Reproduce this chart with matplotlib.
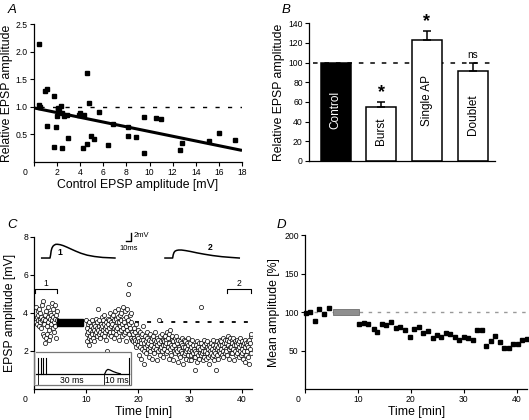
import numpy as np
import matplotlib
matplotlib.use('Agg')
import matplotlib.pyplot as plt
from matplotlib.patches import Rectangle
from matplotlib.transforms import ScaledTranslation

plt.rcParams['font.family'] = ['Liberation Sans', 'DejaVu Sans']
plt.rcParams['font.size'] = 6

# ---------------- Panel A data ----------------
a_x = [0.43, 0.40, 0.55, 0.92, 1.09, 1.73, 1.12, 1.73, 1.93, 1.96, 2.10, 2.16, 2.40, 2.60,
       2.40, 2.94, 2.85, 3.90, 3.95, 4.30, 4.20, 4.60, 4.60, 4.75, 4.95, 5.16, 5.65, 6.37,
       6.85, 8.15, 8.15, 8.84, 9.48, 9.53, 10.57, 10.97, 12.64, 12.85, 15.18, 15.98, 17.37,
       2.05, 2.30]
a_y = [2.14, 1.04, 1.00, 1.28, 1.33, 1.19, 0.66, 0.28, 0.64, 0.84, 0.98, 0.92, 0.89, 0.83,
       0.26, 0.44, 0.85, 0.86, 0.88, 0.86, 0.25, 0.33, 1.61, 1.06, 0.48, 0.42, 0.90, 0.30,
       0.69, 0.63, 0.47, 0.45, 0.81, 0.17, 0.80, 0.77, 0.22, 0.34, 0.38, 0.52, 0.40,
       0.96, 1.01]
a_fit_x = [0.0, 18.0]
a_fit_y = [0.98, 0.21]
a_xticks = [0, 2, 4, 6, 8, 10, 12, 14, 16, 18]
a_yticks = [0.5, 1.0, 1.5, 2.0, 2.5]

# ---------------- Panel B data ----------------
b_labels = ['Control', 'Burst', 'Single AP', 'Doublet']
b_vals = [100, 55, 123, 91]
b_err = [0, 5, 9, 9]
b_sig = ['', '*', '*', 'ns']
b_yticks = [0, 20, 40, 60, 80, 100, 120, 140]

# ---------------- Panel C data ----------------
c_seg1 = [3.5, 4.3, 3.8, 3.4, 4.1, 3.6, 3.9, 3.3, 4.2, 3.7, 3.5, 4.0, 3.2, 3.8, 3.6, 4.4,
          2.9, 3.7, 4.6, 3.4, 2.8, 2.4, 3.9, 3.6, 2.7, 4.1, 3.3, 2.9, 3.8, 3.5, 4.3, 2.6,
          3.1, 3.7, 4.0, 2.8, 3.4, 3.9, 3.6, 4.5, 3.2, 3.8, 4.2, 3.5, 3.0, 4.4, 3.7, 3.3,
          3.9, 2.7, 4.1, 3.6]
c_seg2 = [3.6, 2.9, 3.2, 2.5, 3.4, 3.0, 2.7, 3.5, 2.3, 3.1, 2.8, 3.3, 2.6,
          3.0, 3.6, 2.9, 3.2, 2.7, 3.4, 3.1, 2.5, 3.3, 2.9, 3.7, 3.0,
          3.2, 2.8, 3.5, 3.1, 4.2, 2.9, 3.3, 3.6, 3.0, 2.7, 3.4, 3.2, 3.8,
          2.9, 3.3, 3.1, 3.6, 2.8, 3.4, 3.9, 3.0, 3.2, 2.6, 3.5, 3.3,
          3.1, 2.0, 3.7, 3.4, 2.9, 3.6, 3.2, 4.0, 3.0, 3.5, 2.8, 3.3, 3.8,
          3.4, 3.0, 3.9, 3.2, 2.7, 3.6, 4.1, 3.3, 3.1, 3.7, 2.9, 3.5,
          3.2, 3.8, 4.2, 3.0, 3.5, 2.6, 3.9, 3.3, 4.0, 3.1, 3.6, 2.8, 3.4,
          4.3, 3.2, 3.7, 2.9, 3.5, 4.1, 3.0, 2.5, 3.8, 3.3, 4.2, 3.1,
          3.6, 5.0, 3.4, 5.5, 2.9, 3.9, 3.2, 4.0, 2.7, 3.5, 3.0, 2.6]
c_seg3 = [2.9, 2.5, 3.2, 2.7, 2.4, 3.0, 2.6, 3.4, 2.2, 2.8, 2.5, 3.1,
          2.3, 2.7, 1.8, 2.5, 3.0, 2.2, 2.6, 1.6, 2.4, 2.9, 2.1, 3.3,
          2.6, 2.0, 2.4, 1.3, 2.8, 2.2, 2.5, 1.9, 3.0, 2.3, 2.7, 2.1,
          2.4, 1.7, 2.6, 2.2, 2.9, 2.0, 2.5, 2.3, 1.6, 2.7, 2.1, 2.8,
          2.2, 2.6, 1.9, 2.4, 3.0, 2.1, 2.5, 1.5, 2.7, 2.3, 2.0, 2.6,
          3.6, 2.4, 2.1, 2.8, 1.8, 2.5, 2.2, 2.9, 2.0, 2.6, 2.3, 1.7,
          2.5, 2.1, 2.8, 2.3, 1.9, 2.6, 2.4, 3.0, 2.0, 2.7, 2.2, 1.6,
          2.4, 2.9, 2.1, 3.1, 2.3, 1.8, 2.6, 2.2, 2.8, 1.5, 2.5, 2.0,
          2.3, 2.7, 1.9, 2.5, 2.1, 2.8, 2.0, 2.4, 1.4, 2.6, 2.2, 1.8,
          2.1, 2.5, 1.7, 2.4, 2.0, 2.7, 1.9, 2.3, 1.3, 2.2, 2.6, 1.8,
          2.2, 1.9, 2.5, 2.0, 1.6, 2.4, 2.1, 2.7, 1.8, 2.3, 2.0, 1.5,
          2.1, 2.4, 1.8, 2.2, 1.5, 2.0, 2.6, 1.9, 2.3, 1.7, 2.1, 1.0,
          2.0, 1.7, 2.3, 1.9, 2.5, 1.4, 2.1, 1.8, 2.2, 1.6, 2.4, 1.9,
          2.1, 1.8, 2.4, 4.3, 1.9, 2.2, 1.5, 2.0, 2.6, 1.7, 2.3, 1.9,
          2.0, 2.4, 1.6, 2.2, 1.9, 2.5, 1.7, 2.1, 1.3, 2.3, 1.8, 2.0,
          2.2, 1.9, 2.4, 1.7, 2.1, 2.6, 1.8, 2.3, 2.0, 1.5, 2.2, 1.9,
          2.3, 1.0, 2.1, 2.5, 1.8, 2.2, 1.6, 2.4, 2.0, 2.6, 1.9, 2.3,
          2.1, 2.5, 1.8, 2.3, 2.0, 2.7, 1.7, 2.2, 2.4, 1.9, 2.6, 2.1,
          2.4, 2.0, 2.6, 1.8, 2.3, 2.8, 2.1, 1.6, 2.5, 2.2, 2.7, 1.9,
          2.2, 2.6, 1.9, 2.4, 2.1, 2.7, 1.5, 2.3, 2.0, 2.5, 1.8, 2.4,
          2.3, 1.9, 2.6, 2.1, 2.4, 1.7, 2.5, 2.2, 2.0, 2.7, 1.8, 2.3,
          2.1, 2.5, 1.9, 2.3, 1.6, 2.4, 2.0, 2.6, 1.4, 2.2, 2.4, 1.8,
          2.3, 2.0, 2.5, 1.7, 2.2, 2.6, 1.3, 2.1, 2.4, 2.8, 1.9, 2.9]
c_seg_ranges = [(0.3, 4.4), (10.0, 18.9), (19.0, 41.9)]
c_baseline = 3.5
c_xticks = [0, 10, 20, 30, 40]
c_yticks = [2, 4, 6, 8]
# example EPSP traces (drawn in panel C coordinates)
c_tr1_t = [1.43, 3.03, 3.15, 3.25, 3.40, 3.60, 3.85, 4.15, 4.50, 5.00, 5.60, 6.30, 7.10,
           8.00, 9.00, 10.2, 11.6, 13.2, 15.56]
c_tr1_v = [6.88, 6.88, 7.05, 7.25, 7.40, 7.50, 7.56, 7.60, 7.60, 7.58, 7.53, 7.45, 7.35,
           7.24, 7.13, 7.03, 6.96, 6.91, 6.88]
c_tr2_t = [25.21, 26.69, 26.80, 26.95, 27.15, 27.45, 27.85, 28.40, 29.20, 30.20, 31.40,
           32.80, 34.40, 36.20, 38.00, 39.54]
c_tr2_v = [6.88, 6.88, 7.05, 7.17, 7.24, 7.28, 7.30, 7.30, 7.27, 7.22, 7.15, 7.08, 7.01,
           6.95, 6.91, 6.88]

# ---------------- Panel D data ----------------
d_t = [0.1, 0.9, 1.8, 2.7, 3.6, 4.5,
       10.3, 11.2, 12.0, 13.0, 13.7, 14.6, 15.4, 16.3, 17.2, 18.0, 18.9, 19.8, 20.6, 21.5,
       22.3, 23.2, 24.1, 24.9, 25.8, 26.6, 27.5, 28.3, 29.2, 30.0, 30.9, 31.7, 32.6, 33.4,
       34.3, 35.1, 36.0, 36.8, 37.7, 38.5, 39.3, 40.2, 41.0, 41.9]
d_y = [98.5, 100.7, 89, 104.6, 97, 105,
       84.6, 85.5, 84.6, 77.7, 74.6, 85, 82.9, 86.8, 79.4, 81, 76.4, 67.7, 78, 80.7,
       72.9, 75, 66.8, 70.7, 67.7, 72.4, 71.1, 67.7, 64.2, 67.2, 66.8, 63.8, 77.2, 76.8,
       55.5, 62.9, 69, 60.7, 53.8, 53.4, 59, 59, 64.2, 64.6]
d_xticks = [0, 10, 20, 30, 40]
d_yticks = [50, 100, 150, 200]

W, H = 529, 420
fig = plt.figure(figsize=(W / 100, H / 100), dpi=100)


def ax_px(l, r, t, b):
    return fig.add_axes([l / W, 1 - b / H, (r - l) / W, (b - t) / H])


TICK = 6.2


def style(ax):
    for s in ['top', 'right']:
        ax.spines[s].set_visible(False)
    for s in ['left', 'bottom']:
        ax.spines[s].set_linewidth(0.9)
    ax.tick_params(direction='out', length=3, width=0.8, labelsize=TICK, pad=1.5)


def shift_zero(ax, dx_px):
    for lab, tk in zip(ax.get_xticklabels(), ax.get_xticks()):
        if tk == 0:
            lab.set_transform(lab.get_transform() + ScaledTranslation(dx_px / 100, 0, fig.dpi_scale_trans))


LBL = 8.8

# ================ A ================
axA = ax_px(34, 242, 24, 162)
style(axA)
axA.set_xlim(0, 18)
axA.set_ylim(0, 2.5)
axA.plot([0.5, 18], [1, 1], color='black', lw=1.0, dashes=(3, 6))
axA.plot(a_fit_x, a_fit_y, color='black', lw=2.2, solid_capstyle='butt')
axA.plot(a_x, a_y, 's', color='black', ms=3.0, mec='black', clip_on=False)
axA.set_xticks(a_xticks)
axA.set_yticks(a_yticks)
axA.set_yticklabels(['0.5', '1.0', '1.5', '2.0', '2.5'])
shift_zero(axA, -9)
axA.set_xlabel('Control EPSP amplitude [mV]', fontsize=LBL, labelpad=1)
axA.set_ylabel('Relative EPSP amplitude', fontsize=LBL, labelpad=2)
fig.text(8 / W, 1 - 13 / H, 'A', fontsize=9.5, style='italic')

# ================ B ================
axB = ax_px(309, 495, 23.3, 161)
style(axB)
xb = np.arange(len(b_vals))
axB.set_xlim(-0.585, 3.49)
axB.set_ylim(0, 140)
axB.plot([-0.5, 3.49], [100, 100], color='black', lw=1.1, dashes=(3, 4.5), zorder=1)
colors = ['black', 'white', 'white', 'white']
axB.bar(xb, b_vals, width=0.66, color=colors, edgecolor='black', linewidth=1.1, zorder=2)
for i in range(1, 4):
    axB.errorbar(xb[i], b_vals[i], yerr=[[0], [b_err[i]]], fmt='none', ecolor='black',
                 elinewidth=1.1, capsize=3, capthick=1.1, zorder=3)
label_pos = [52, 30, 62, 47]
for i, lab in enumerate(b_labels):
    axB.text(xb[i], label_pos[i], lab, rotation=90, ha='center', va='center', fontsize=8.5,
             color='white' if i == 0 else 'black', zorder=4)
for i, s in enumerate(b_sig):
    if s == '*':
        axB.text(xb[i], b_vals[i] + b_err[i] + 1, s, ha='center', va='bottom', fontsize=13,
                 fontweight='bold', clip_on=False)
    elif s:
        axB.text(xb[i], b_vals[i] + b_err[i] + 3, s, ha='center', va='bottom', fontsize=7.2)
axB.set_xticks([])
axB.set_yticks(b_yticks)
axB.set_ylabel('Relative EPSP amplitude', fontsize=LBL, labelpad=2)
fig.text(282 / W, 1 - 13 / H, 'B', fontsize=9.5, style='italic')

# ================ C ================
axC = ax_px(34.3, 252, 236.7, 389)
style(axC)
axC.set_xlim(0, 42)
axC.set_ylim(0, 8)
segs = [c_seg1, c_seg2, c_seg3]
for (t0, t1), vals in zip(c_seg_ranges, segs):
    tt = np.linspace(t0, t1, len(vals))
    axC.plot(tt, vals, 'o', ms=3.0, mfc='white', mec='black', mew=0.5, zorder=3)
# burst bar
axC.add_patch(Rectangle((4.3, c_baseline - 0.18), 5.15, 0.36, facecolor='black', edgecolor='black', zorder=4))
axC.plot([19.4, 42], [c_baseline, c_baseline], color='black', lw=1.3, dashes=(2.2, 4.5), zorder=2, clip_on=False)
# brackets
for (b0, b1, lab) in [(0.13, 4.3, '1'), (37.1, 41.9, '2')]:
    axC.plot([b0, b0, b1, b1], [5.02, 5.27, 5.27, 5.02], color='black', lw=0.8, clip_on=False)
    axC.text((b0 + b1) / 2, 5.33, lab, ha='center', va='bottom', fontsize=6.2)
# traces
axC.plot(c_tr1_t, c_tr1_v, color='black', lw=1.1, clip_on=False)
axC.plot(c_tr2_t, c_tr2_v, color='black', lw=1.1, clip_on=False)
axC.text(4.9, 7.15, '1', fontsize=6.2, fontweight='bold', ha='center', va='center')
axC.text(33.9, 7.45, '2', fontsize=6.2, fontweight='bold', ha='center', va='center')
# scale bar
axC.plot([17.6, 18.65, 18.65], [7.79, 7.79, 8.21], color='black', lw=1.0, clip_on=False)
axC.text(19.2, 8.05, '2mV', fontsize=5.5, va='center', ha='left', clip_on=False)
axC.text(18.2, 7.4, '10ms', fontsize=5.5, va='center', ha='center')
# inset protocol box
axC.add_patch(Rectangle((0, 0.21), 18.65, 1.75, facecolor='white', edgecolor='#777777', lw=0.9, zorder=5))
axC.add_patch(Rectangle((0.05, 0.25), 0.35, 1.68, facecolor='#cccccc', edgecolor='none', zorder=5))
axC.plot([0.4, 18.3], [0.8, 0.8], color='black', lw=0.9, zorder=6)
for sp in [0.75, 1.25, 1.75, 2.25]:
    axC.plot([sp, sp], [0.8, 1.62], color='black', lw=0.8, zorder=6)
axC.plot([18.26, 18.26], [0.8, 1.62], color='black', lw=0.8, zorder=6)
axC.plot([13.6, 13.9, 14.2, 14.6, 15.2, 16.0, 16.6], [0.8, 0.97, 1.03, 1.0, 0.92, 0.84, 0.8],
         color='black', lw=0.9, zorder=6)
for sp in [0.77, 13.44, 18.26]:
    axC.plot([sp, sp], [0.25, 0.78], color='black', lw=0.6, zorder=6)
axC.text(7.2, 0.47, '30 ms', fontsize=6.2, ha='center', va='center', zorder=7)
axC.text(15.85, 0.47, '10 ms', fontsize=6.2, ha='center', va='center', zorder=7)
axC.set_xticks(c_xticks)
axC.set_yticks(c_yticks)
shift_zero(axC, -9)
axC.set_xlabel('Time [min]', fontsize=LBL, labelpad=1)
axC.set_ylabel('EPSP amplitude [mV]', fontsize=LBL, labelpad=5)
fig.text(7 / W, 1 - 228 / H, 'C', fontsize=9.5, style='italic')

# ================ D ================
axD = ax_px(305, 527.2, 235.3, 389)
style(axD)
axD.set_xlim(0, 42)
axD.set_ylim(0, 200)
axD.plot([0, 42], [100, 100], color='#999999', lw=1.0, dashes=(2.5, 4), zorder=1)
axD.add_patch(Rectangle((5.35, 96), 4.95, 8.5, facecolor='#8f8f8f', edgecolor='#6f6f6f', lw=0.6, zorder=2))
axD.plot(d_t, d_y, 's', color='black', ms=3.3, zorder=3, clip_on=False)
axD.set_xticks(d_xticks)
axD.set_yticks(d_yticks)
shift_zero(axD, -7)
axD.set_xlabel('Time [min]', fontsize=LBL, labelpad=1)
axD.set_ylabel('Mean amplitude [%]', fontsize=LBL, labelpad=3)
fig.text(277 / W, 1 - 228 / H, 'D', fontsize=9.5, style='italic')

fig.savefig('out.png', dpi=100)
